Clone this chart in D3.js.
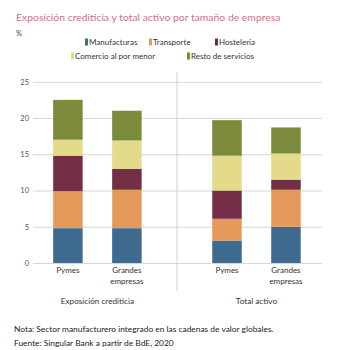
<!DOCTYPE html>
<html>
<head>
<meta charset="utf-8">
<script src="https://cdn.jsdelivr.net/npm/d3@7"></script>
<style>
  body { margin: 0; background: #fff; }
  text { font-family: Lato, "Open Sans", sans-serif; }
</style>
</head>
<body>
<div id="chart"></div>
<script>
// Data
const groups = ["Exposición crediticia", "Total activo"];
const categories = ["Pymes", "Grandes empresas"];
const sectors = ["Manufacturas", "Transporte", "Hostelería", "Comercio al por menor", "Resto de servicios"];
const manufacturas = [4.8, 4.8, 3.1, 5.0];
const transporte = [5.1, 5.3, 3.0, 5.1];
const hosteleria = [4.9, 2.9, 3.9, 1.4];
const comercio = [2.2, 3.9, 4.8, 3.6];
const resto = [5.5, 4.1, 4.9, 3.6];
const yTicks = [0, 5, 10, 15, 20, 25];

const colors = ["#3d6a8e", "#e59a5b", "#722f45", "#e3da8a", "#7c8a3b"];

const width = 342, height = 350;

const svg = d3.select("#chart")
    .append("svg")
    .attr("width", width)
    .attr("height", height);

// build rows for the stack
const rows = [];
groups.forEach((g, gi) => {
    categories.forEach((c, ci) => {
        const i = gi * 2 + ci;
        rows.push({
            group: g, cat: c,
            "Manufacturas": manufacturas[i],
            "Transporte": transporte[i],
            "Hostelería": hosteleria[i],
            "Comercio al por menor": comercio[i],
            "Resto de servicios": resto[i]
        });
    });
});

const series = d3.stack().keys(sectors)(rows);

const color = d3.scaleOrdinal().domain(sectors).range(colors);

const x0 = d3.scaleBand().domain(groups).range([33, 322]);
// bars sit a bit away from the divider in each group
const x1 = gi => d3.scaleBand().domain(categories)
    .range([0, x0.bandwidth()])
    .paddingInner(0.5).paddingOuter(0.475)
    .align(gi === 0 ? 0.36 : 0.62);

const y = d3.scaleLinear().domain([0, 25]).range([263, 81.75]);

// Title
svg.append("text")
    .attr("x", 16).attr("y", 21)
    .attr("fill", "#c9747f")
    .attr("font-size", 10.4)
    .text("Exposición crediticia y total activo por tamaño de empresa");

svg.append("text")
    .attr("x", 16).attr("y", 36)
    .attr("fill", "#444")
    .attr("font-size", 7.5)
    .text("%");

// Legend
const legendPos = [[85, 42], [149, 42], [215, 42], [71, 56], [187, 56]];
const legend = svg.append("g")
    .selectAll("g")
    .data(sectors)
    .join("g")
    .attr("transform", (d, i) => `translate(${legendPos[i][0]},${legendPos[i][1]})`);

legend.append("rect")
    .attr("x", 0).attr("y", -3.5)
    .attr("width", 3).attr("height", 7)
    .attr("fill", color);

legend.append("text")
    .attr("x", 4)
    .attr("dy", "0.35em")
    .attr("font-size", 8)
    .attr("fill", "#333")
    .text(d => d);

// Gridlines + y axis labels
const yAxis = svg.append("g")
    .attr("transform", "translate(33,0)")
    .call(d3.axisLeft(y).tickValues(yTicks).tickSize(-289).tickPadding(4));
yAxis.select(".domain").remove();
yAxis.selectAll(".tick line").attr("stroke", "#d6d6d6");
yAxis.selectAll(".tick text")
    .attr("fill", "#555")
    .attr("font-size", 7.5)
    .style("font-family", "Lato, sans-serif");

// Divider between the groups
svg.append("line")
    .attr("x1", x0(groups[1]) - 0.5).attr("x2", x0(groups[1]) - 0.5)
    .attr("y1", 72).attr("y2", 291)
    .attr("stroke", "#cfcfcf");

// Bars
const barX = d => x0(d.data.group) + x1(groups.indexOf(d.data.group))(d.data.cat);
svg.append("g")
    .selectAll("g")
    .data(series)
    .join("g")
    .attr("fill", d => color(d.key))
    .selectAll("rect")
    .data(d => d)
    .join("rect")
    .attr("x", barX)
    .attr("y", d => y(d[1]))
    .attr("width", d => x1(groups.indexOf(d.data.group)).bandwidth())
    .attr("height", d => y(d[0]) - y(d[1]));

// Category labels
const catLabels = svg.append("g")
    .selectAll("text")
    .data(rows)
    .join("text")
    .attr("x", d => x0(d.group) + x1(groups.indexOf(d.group))(d.cat) + x1(0).bandwidth() / 2)
    .attr("y", 273)
    .attr("text-anchor", "middle")
    .attr("font-size", 8)
    .attr("fill", "#333");
catLabels.each(function(d) {
    const words = d.cat === "Grandes empresas" ? ["Grandes", "empresas"] : [d.cat];
    d3.select(this).selectAll("tspan")
        .data(words)
        .join("tspan")
        .attr("x", d3.select(this).attr("x"))
        .attr("dy", (w, i) => i === 0 ? 0 : 11)
        .text(w => w);
});

// Group labels
svg.append("g")
    .selectAll("text")
    .data(groups)
    .join("text")
    .attr("x", (d, i) => {
        const s = x1(i);
        return x0(d) + (s(categories[0]) + s(categories[1]) + s.bandwidth()) / 2;
    })
    .attr("y", 304)
    .attr("text-anchor", "middle")
    .attr("font-size", 8.2)
    .attr("fill", "#333")
    .text(d => d);

// Notes
svg.append("text")
    .attr("x", 14).attr("y", 332)
    .attr("font-size", 8.4)
    .attr("fill", "#222")
    .text("Nota: Sector manufacturero integrado en las cadenas de valor globales.");
svg.append("text")
    .attr("x", 14).attr("y", 346)
    .attr("font-size", 8.4)
    .attr("fill", "#222")
    .text("Fuente: Singular Bank a partir de BdE, 2020");
</script>
</body>
</html>
